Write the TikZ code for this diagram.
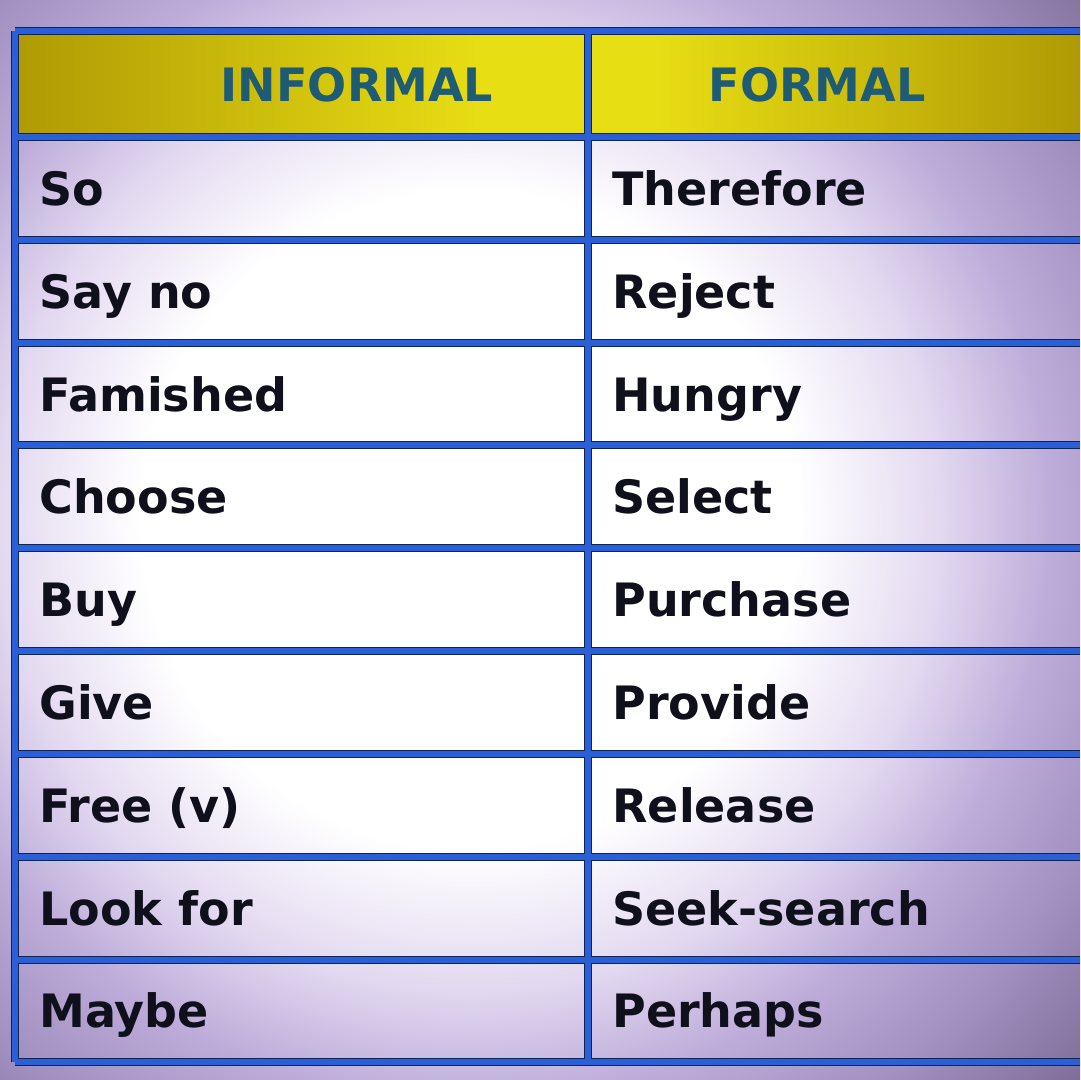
\documentclass[tikz,border=0pt]{standalone}
\usepackage{fontspec}
\setmainfont{DejaVu Sans}
\usepackage{tikz}

\definecolor{gridblue}{HTML}{2B5FD6}
\definecolor{gridnavy}{HTML}{0C2456}
\definecolor{headtxt}{HTML}{1F5C74}
\definecolor{celltxt}{HTML}{10101C}
\definecolor{yelDark}{HTML}{B09A04}
\definecolor{yelLight}{HTML}{E8DE14}
\definecolor{lavLight}{HTML}{E2D8F0}
\definecolor{lavMid}{HTML}{BEADDA}
\definecolor{lavDeep}{HTML}{A190C0}
\definecolor{lavDark}{HTML}{7E6C98}

\pgfdeclareradialshading{vignette}{\pgfpoint{0bp}{0bp}}{color(0bp)=(white); color(10.7bp)=(white); color(15.3bp)=(lavLight); color(18.8bp)=(lavMid); color(22.7bp)=(lavDeep); color(27bp)=(lavDark); color(50bp)=(lavDark)}
\pgfdeclarehorizontalshading{header}{100bp}{color(0bp)=(yelDark); color(25bp)=(yelDark); color(47bp)=(yelLight); color(55bp)=(yelLight); color(75bp)=(yelDark); color(100bp)=(yelDark)}

\tikzset{
  rule/.style={gridnavy, line width=4pt, postaction={draw, gridblue, line width=2.6pt}},
  cell/.style={anchor=base west, text=celltxt, font=\bfseries\fontsize{23}{28}\selectfont},
  head/.style={anchor=base, text=headtxt, font=\bfseries\fontsize{23}{28}\selectfont}
}

\begin{document}
\begin{tikzpicture}[x=0.5pt,y=-0.5pt]
\tikzstyle{every node}+=[inner sep=0pt]
\useasboundingbox (0,0) rectangle (1080,1080);
\begin{scope}
\clip (0,0) rectangle (1080,1080);
\shade [shading=vignette] (-300,-250) rectangle (1240,1290);
\shade [shading=header] (15,31) rectangle (1080,137);
\end{scope}
% grid
\draw [rule] (15,31) -- (1080,31) (15,137) -- (1080,137) (15,240) -- (1080,240)
  (15,343) -- (1080,343) (15,445) -- (1080,445) (15,548) -- (1080,548)
  (15,651) -- (1080,651) (15,754) -- (1080,754) (15,857) -- (1080,857)
  (15,960) -- (1080,960) (15,1062) -- (1080,1062)
  (15,31) -- (15,1062) (588,31) -- (588,1062);
% header
\node [head] (infHead) at (357,102) {INFORMAL};
\node [head] (frmHead) at (817,102) {FORMAL};
% informal words
\node [cell] (inf1) at (39,205.4) {So};
\node [cell] (inf2) at (39,308.2) {Say no};
\node [cell] (inf3) at (39,411) {Famished};
\node [cell] (inf4) at (39,513.8) {Choose};
\node [cell] (inf5) at (39,616.6) {Buy};
\node [cell] (inf6) at (39,719.4) {Give};
\node [cell] (inf7) at (39,822.2) {Free (v)};
\node [cell] (inf8) at (39,925) {Look for};
\node [cell] (inf9) at (39,1027.8) {Maybe};
% formal words
\node [cell] (frm1) at (612,205.4) {Therefore};
\node [cell] (frm2) at (612,308.2) {Reject};
\node [cell] (frm3) at (612,411) {Hungry};
\node [cell] (frm4) at (612,513.8) {Select};
\node [cell] (frm5) at (612,616.6) {Purchase};
\node [cell] (frm6) at (612,719.4) {Provide};
\node [cell] (frm7) at (612,822.2) {Release};
\node [cell] (frm8) at (612,925) {Seek-search};
\node [cell] (frm9) at (612,1027.8) {Perhaps};
\end{tikzpicture}
\end{document}
